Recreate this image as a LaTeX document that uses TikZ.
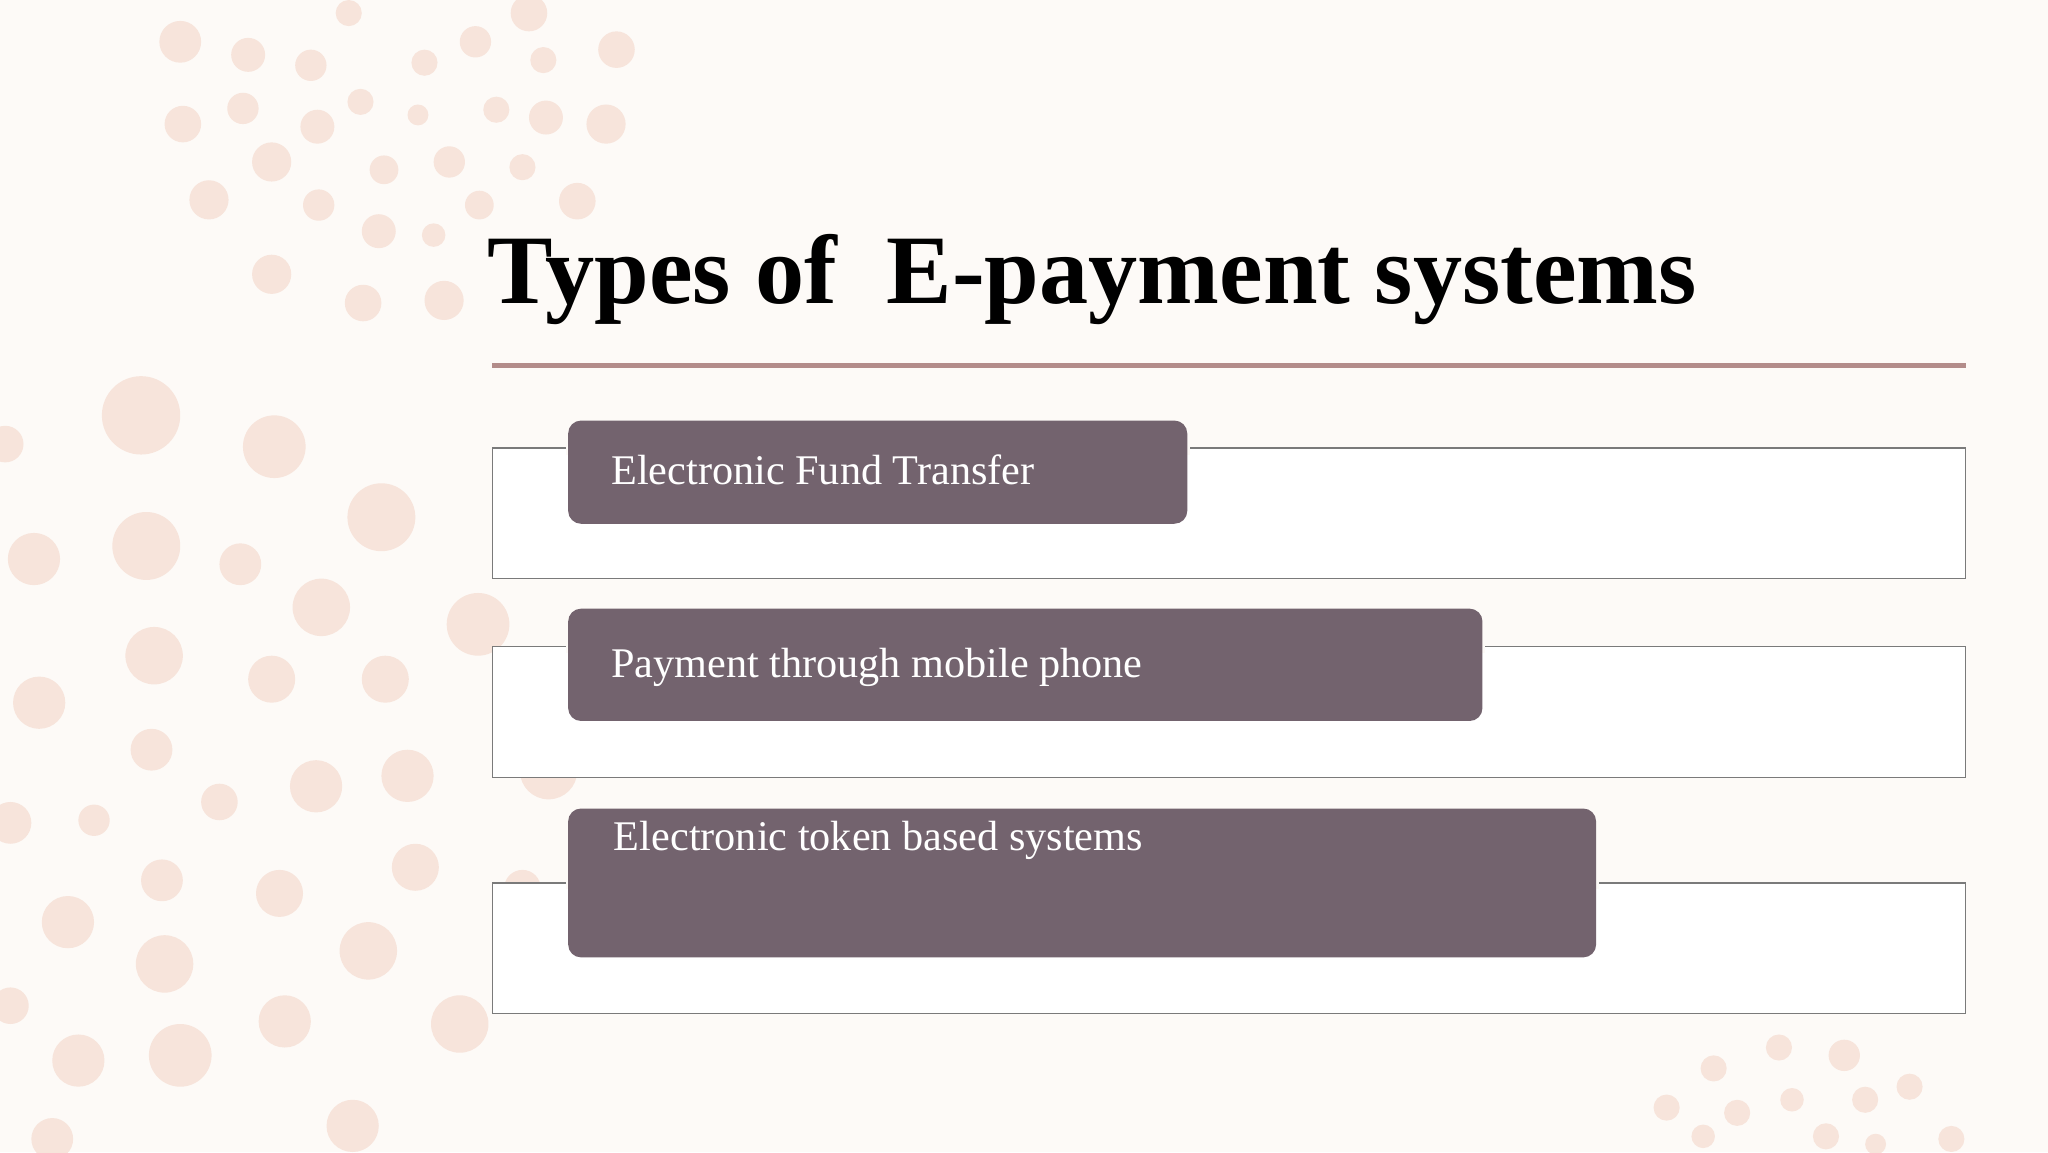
\documentclass[tikz,border=0pt]{standalone}
\usepackage{fontspec}
\setmainfont{Liberation Serif}
\definecolor{bg}{HTML}{FDFAF7}
\definecolor{dot}{HTML}{F7E4DB}
\definecolor{bar}{HTML}{73636E}
\definecolor{rule}{HTML}{B38C8A}
\definecolor{frame}{HTML}{7A7A7A}
\begin{document}
\begin{tikzpicture}[x=0.1cm,y=-0.1cm,
  outer/.style={draw=frame,line width=2.5pt,fill=white},
  inner/.style={fill=bar,rounded corners=28pt},
  lbl/.style={text=white,anchor=base west,font=\fontsize{92}{100}\selectfont,inner sep=0},
  d/.style={fill=dot}]
\fill[bg] (0,0) rectangle (1568,882);
\useasboundingbox (0,0) rectangle (1568,882);
% dots
\foreach \x/\y/\r in {138/32/16,190/42/13,238/50/12,267/10/10,325/48/10,364/32/12,416/46/10,405/10/14,472/38/14,
 140/95/14,186/83/12,243/97/13,276/78/10,320/88/8,380/84/10,418/90/13,464/95/15,
 208/124/15,294/130/11,344/124/12,400/128/10,160/153/15,244/157/12,290/177/13,367/157/11,442/154/14,
 332/180/9,208/210/15,278/232/14,340/230/15,
 108/318/30,210/342/24,292/396/26,4/340/14,112/418/26,184/432/16,26/428/20,246/465/22,366/478/24,
 118/502/22,208/520/18,295/520/18,30/538/20,116/574/16,168/614/14,242/602/20,312/594/20,420/590/22,
 8/630/16,72/628/12,124/674/16,214/684/18,318/664/18,52/706/20,126/738/22,282/728/22,400/680/14,
 8/770/14,60/812/20,138/808/24,218/782/20,352/784/22,270/862/20,40/872/16,
 1362/802/10,1412/808/12,1312/818/10,1372/842/9,1428/842/10,1462/832/10,1276/848/10,1330/852/10,1398/870/10,1304/870/9,1494/872/10,1436/876/8}
  \fill[dot] (\x,\y) circle (\r);
% title
\node[anchor=base west,inner sep=0,font=\bfseries\fontsize{214}{230}\selectfont] (title) at (373,232) {Types of\ \ E-payment systems};
\draw[rule,line width=11pt] (377,280) coordinate (r1) -- (1505,280) coordinate (r2);
% boxes
\draw[outer] (377,343) rectangle (1505,443) coordinate (o1);
\draw[outer] (377,495) rectangle (1505,595) coordinate (o2);
\draw[outer] (377,676) rectangle (1505,776) coordinate (o3);
\fill[bg] (433,338) rectangle (911,348);
\fill[bg] (433,490) rectangle (1137,500);
\fill[bg] (433,671) rectangle (1224,681);
\fill[inner] (435,322) rectangle (909,401);
\fill[inner] (435,466) rectangle (1135,552);
\fill[inner] (435,619) rectangle (1222,733);
\node[lbl] (t1) at (468,371) {Electronic Fund Transfer};
\node[lbl] (t2) at (468,519) {Payment through mobile phone};
\node[lbl] (t3) at (470,651) {Electronic token based systems};
\end{tikzpicture}
\end{document}
